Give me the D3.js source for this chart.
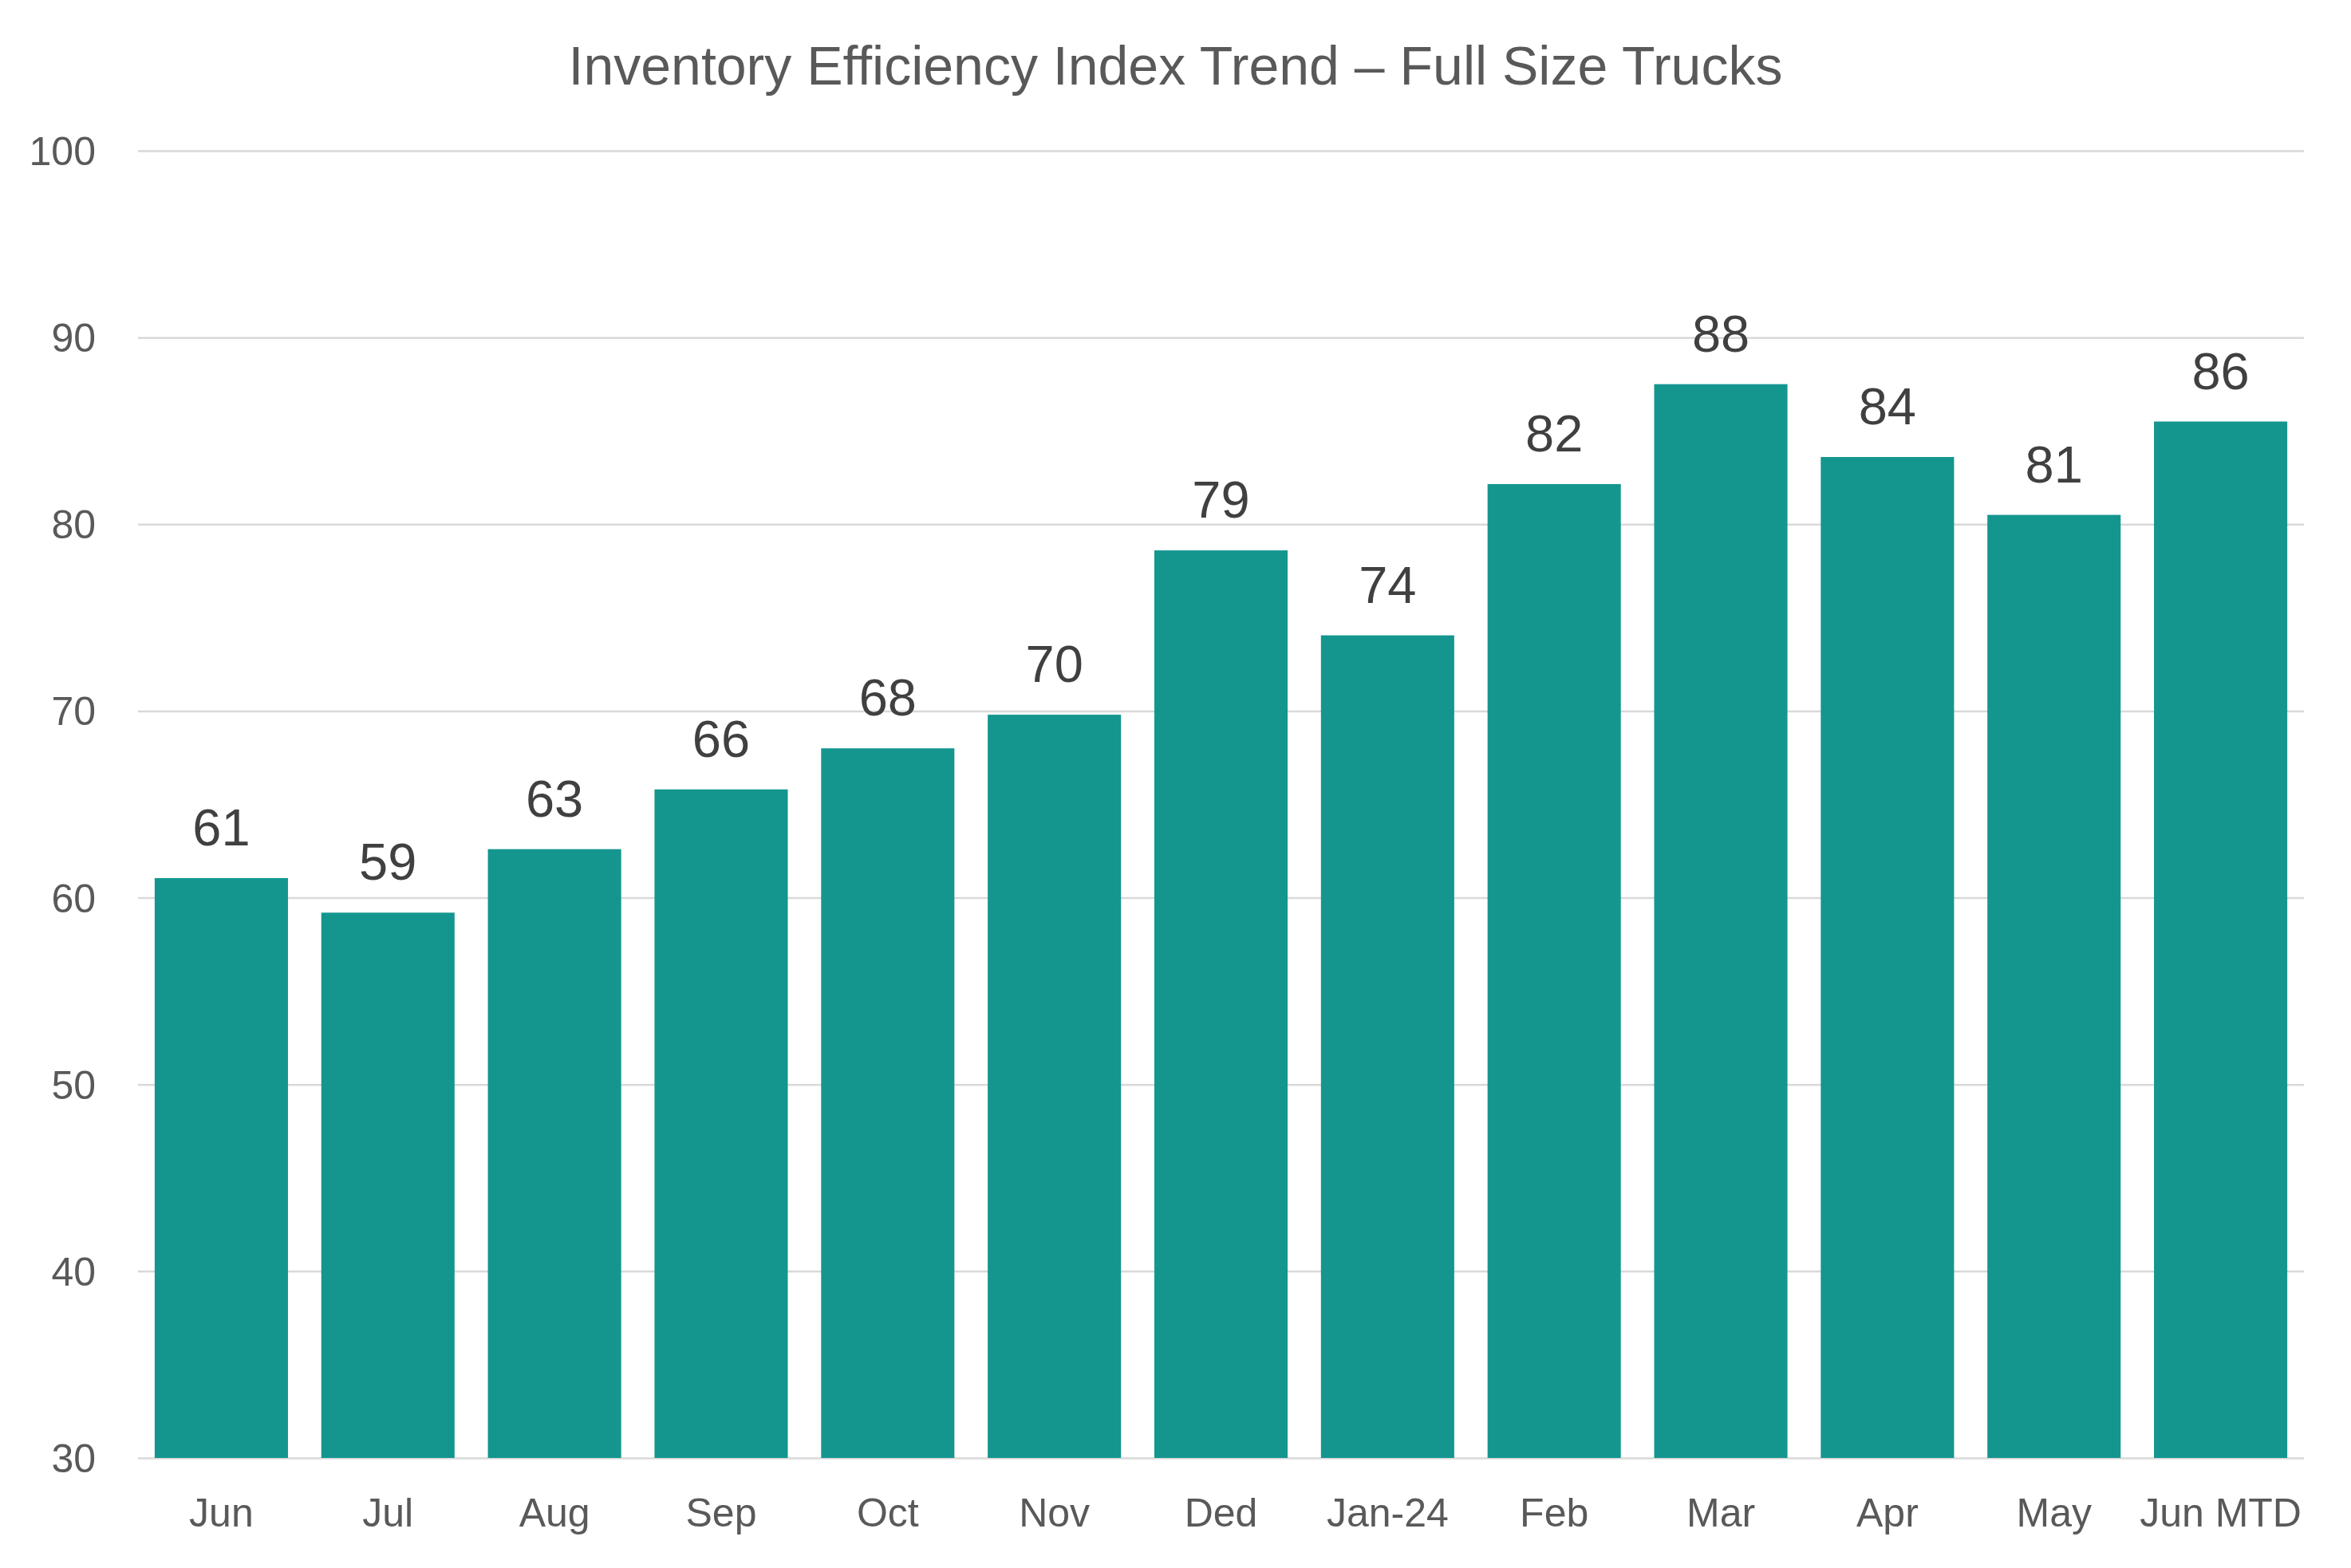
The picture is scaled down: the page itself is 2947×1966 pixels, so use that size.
<!DOCTYPE html>
<html>
<head>
<meta charset="utf-8">
<script src="https://cdn.jsdelivr.net/npm/d3@7"></script>
<style>
  body { margin: 0; background: #fff; }
  text { font-family: "Liberation Sans", Arial, sans-serif; }
</style>
</head>
<body>
<div id="chart"></div>
<script>
var months = ['Jun', 'Jul', 'Aug', 'Sep', 'Oct', 'Nov', 'Ded', 'Jan-24', 'Feb', 'Mar', 'Apr', 'May', 'Jun MTD'];
var indexValues = [61.05, 59.2, 62.6, 65.8, 68.0, 69.8, 78.6, 74.05, 82.15, 87.5, 83.6, 80.5, 85.5];
var yTicks = [30, 40, 50, 60, 70, 80, 90, 100];

var W = 2947, H = 1966;
var margin = { top: 189, right: 59, bottom: 138, left: 173 },
  width = W - margin.left - margin.right,
  height = H - margin.top - margin.bottom;

var svg = d3.select('#chart')
  .append('svg')
  .attr('width', W)
  .attr('height', H)
  .style('background', '#fff');

svg.append('text')
  .attr('x', W / 2)
  .attr('y', 106)
  .attr('text-anchor', 'middle')
  .style('font-size', '68px')
  .style('fill', '#595959')
  .text('Inventory Efficiency Index Trend \u2013 Full Size Trucks');

var chart = svg.append('g')
  .attr('transform', 'translate(' + margin.left + ',' + margin.top + ')');

var xScale = d3.scaleBand()
  .domain(months)
  .range([0, width])
  .paddingInner(0.2)
  .paddingOuter(0.1);

var yScale = d3.scaleLinear()
  .domain([30, 100])
  .range([height, 0]);

// gridlines
var yAxis = chart.append('g')
  .call(d3.axisLeft(yScale).tickValues(yTicks).tickSize(-width).tickPadding(53));
yAxis.select('.domain').remove();
yAxis.selectAll('line').attr('stroke', '#D9D9D9').attr('stroke-width', 2.5);
yAxis.selectAll('text')
  .style('font-size', '50px')
  .style('fill', '#595959')
  .attr('dy', '0.35em');

chart.selectAll('rect.bar')
  .data(indexValues)
  .enter().append('rect')
  .attr('class', 'bar')
  .attr('x', function(d, i) { return xScale(months[i]); })
  .attr('width', xScale.bandwidth())
  .attr('y', function(d) { return yScale(d); })
  .attr('height', function(d) { return height - yScale(d); })
  .style('fill', '#14968F');

chart.selectAll('text.lbl')
  .data(indexValues)
  .enter().append('text')
  .attr('class', 'lbl')
  .attr('x', function(d, i) { return xScale(months[i]) + xScale.bandwidth() / 2; })
  .attr('y', function(d) { return yScale(d) - 41; })
  .attr('text-anchor', 'middle')
  .style('font-size', '65px')
  .style('fill', '#404040')
  .text(function(d) { return d.toFixed(0); });

var xAxis = chart.append('g')
  .attr('transform', 'translate(0,' + height + ')')
  .call(d3.axisBottom(xScale).tickSize(0).tickPadding(50));
xAxis.select('.domain').remove();
xAxis.selectAll('text')
  .style('font-size', '50px')
  .style('fill', '#595959');
</script>
</body>
</html>
